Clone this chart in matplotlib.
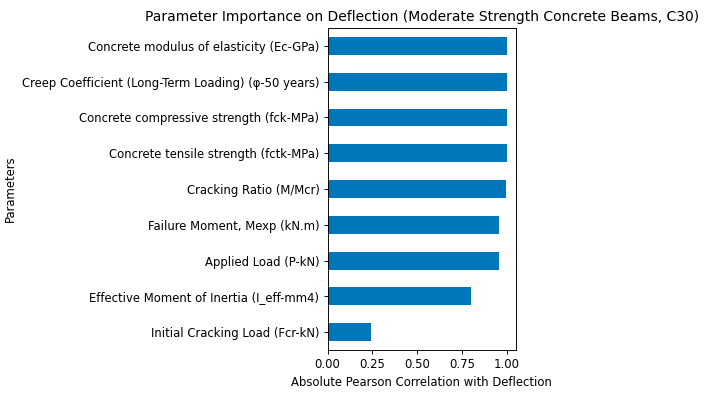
import matplotlib
matplotlib.use("Agg")
import matplotlib.pyplot as plt
import numpy as np

parameters = [
    "Initial Cracking Load (Fcr-kN)",
    "Effective Moment of Inertia (I_eff-mm4)",
    "Applied Load (P-kN)",
    "Failure Moment, Mexp (kN.m)",
    "Cracking Ratio (M/Mcr)",
    "Concrete tensile strength (fctk-MPa)",
    "Concrete compressive strength (fck-MPa)",
    "Creep Coefficient (Long-Term Loading) (φ-50 years)",
    "Concrete modulus of elasticity (Ec-GPa)",
]
correlations = [0.24, 0.80, 0.955, 0.956, 0.992, 0.999, 0.999, 0.999, 1.0]

DPI = 83.5
W, H = 706, 394
fig = plt.figure(figsize=(W / DPI, H / DPI), dpi=DPI)
ax = fig.add_axes([327.5 / W, 1 - 350 / H, (516 - 327.5) / W, (350 - 28) / H])
y = np.arange(len(parameters))
ax.barh(y, correlations, height=0.5, color="#0077bb")
ax.set_yticks(y)
ax.set_yticklabels(parameters)
ax.set_ylim(-0.5, len(parameters) - 0.5)
ax.set_xlim(0, max(correlations) * 1.05)
ax.set_xticks([0, 0.25, 0.5, 0.75, 1.0])
ax.set_xticklabels(["0.00", "0.25", "0.50", "0.75", "1.00"])
ax.set_xlabel("Absolute Pearson Correlation with Deflection")
ax.set_ylabel("Parameters")
ax.set_title("Parameter Importance on Deflection (Moderate Strength Concrete Beams, C30)")
fig.savefig("out.png", dpi=DPI)
